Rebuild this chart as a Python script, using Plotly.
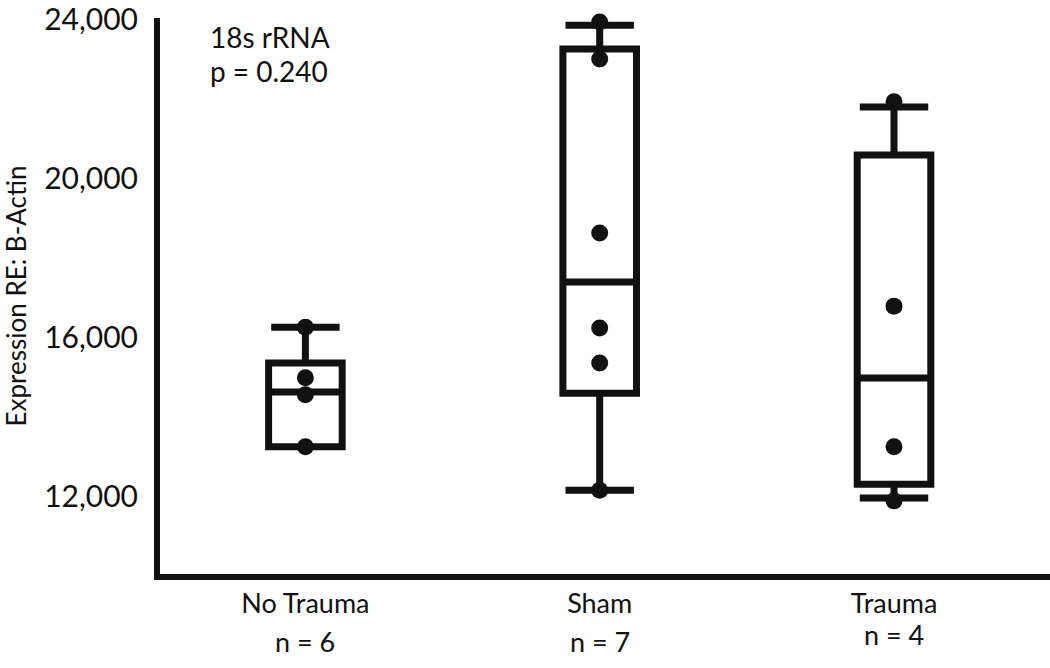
import plotly.graph_objects as go

categories = ["No Trauma", "Sham", "Trauma"]
n_labels = ["n = 6", "n = 7", "n = 4"]
x_pos = [0, 1, 2]

lower_whisker = [13260, 12170, 11970]
q1_vals = [13260, 14610, 12320]
median_vals = [14640, 17410, 14990]
q3_vals = [15370, 23270, 20600]
upper_whisker = [16270, 23870, 21810]

no_trauma_pts = [16270, 15000, 14570, 13260]
sham_pts = [23950, 23020, 18640, 16250, 15370, 12170]
trauma_pts = [21940, 16800, 13260, 11900]
points = [no_trauma_pts, sham_pts, trauma_pts]

y_ticks = [12000, 16000, 20000, 24000]
y_ticktext = ["12,000", "16,000", "20,000", "24,000"]

BLACK = "#111111"
FONT = "Lato"

fig = go.Figure()
for i, c in enumerate(categories):
    fig.add_trace(go.Box(
        x=[x_pos[i]], q1=[q1_vals[i]], median=[median_vals[i]], q3=[q3_vals[i]],
        lowerfence=[lower_whisker[i]], upperfence=[upper_whisker[i]],
        width=0.25, whiskerwidth=0.93,
        line=dict(color=BLACK, width=7), fillcolor="rgba(0,0,0,0)",
        boxpoints=False, showlegend=False, hoverinfo="skip",
    ))
    fig.add_trace(go.Scatter(
        x=[x_pos[i]] * len(points[i]), y=points[i], mode="markers",
        marker=dict(color=BLACK, size=17), cliponaxis=False, showlegend=False,
    ))

fig.update_layout(
    width=1050, height=668,
    margin=dict(l=160, r=0, t=18, b=94),
    paper_bgcolor="white", plot_bgcolor="white",
    font=dict(family=FONT, color=BLACK, size=30),
    xaxis=dict(
        range=[-0.494, 2.53], tickvals=x_pos, ticktext=categories,
        showgrid=False, zeroline=False, showline=True, linecolor=BLACK, linewidth=6,
        ticks="", tickfont=dict(family=FONT, size=27, color=BLACK),
        ticklabelstandoff=1,
    ),
    yaxis=dict(
        range=[10060, 24050], tickvals=y_ticks, ticktext=y_ticktext,
        showgrid=False, zeroline=False, showline=True, linecolor=BLACK, linewidth=6,
        ticks="", tickfont=dict(family=FONT, size=30, color=BLACK),
        ticklabelstandoff=10,
        title=dict(text="Expression RE: B-Actin", font=dict(family=FONT, size=26, color=BLACK), standoff=12),
    ),
)

n_y = [-0.122, -0.122, -0.108]
for i, t in enumerate(n_labels):
    fig.add_annotation(x=x_pos[i], y=n_y[i], xref="x", yref="paper", text=t,
                       showarrow=False, yanchor="middle",
                       font=dict(family=FONT, size=27, color=BLACK))

fig.add_annotation(x=0.054, y=0.965, xref="paper", yref="paper", xanchor="left", yanchor="middle",
                   text="18s rRNA", showarrow=False, align="left",
                   font=dict(family=FONT, size=28, color=BLACK))
fig.add_annotation(x=0.054, y=0.905, xref="paper", yref="paper", xanchor="left", yanchor="middle",
                   text="p = 0.240", showarrow=False, align="left",
                   font=dict(family=FONT, size=28, color=BLACK))

fig.write_html("out.html", config={"displayModeBar": False},
               post_script="document.body.style.margin='0';document.body.style.overflow='hidden';")
